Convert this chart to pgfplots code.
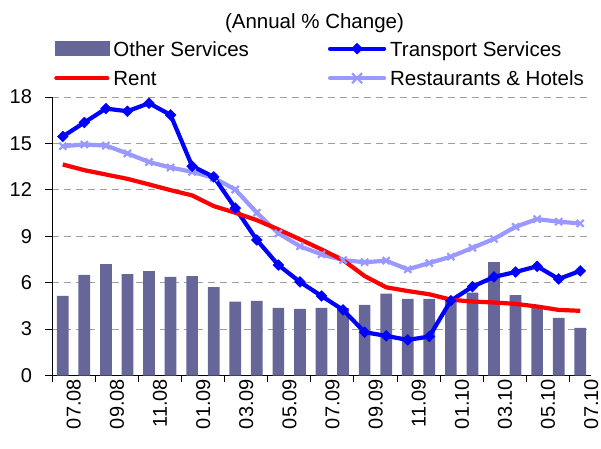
\documentclass[border=0pt]{standalone}
\usepackage{fontspec}
\setmainfont{Liberation Sans}
\usepackage{pgfplots}
\pgfplotsset{compat=1.18}
\definecolor{barcol}{HTML}{666699}
\definecolor{tcol}{HTML}{0000FF}
\definecolor{rentcol}{HTML}{FF0000}
\definecolor{rhcol}{HTML}{9999FF}
\definecolor{gridcol}{HTML}{A0A0A0}
\begin{document}
\begin{tikzpicture}
\useasboundingbox (-52pt,-72.5pt) rectangle (549pt,375.5pt);
\begin{axis}[
  scale only axis,
  width=539pt, height=278.5pt,
  at={(0pt,0pt)}, anchor=south west,
  xmin=-0.5, xmax=24.5,
  ymin=0, ymax=18,
  axis x line*=bottom, axis y line*=left,
  axis line style={black, line width=0.8pt},
  tick align=outside,
  ytick={0,3,...,18},
  ymajorgrids,
  major grid style={gridcol, line width=0.8pt, dash pattern=on 7pt off 5pt},
  major tick length=6.5pt,
  tick style={black, line width=0.8pt},
  xtick={-0.5,1.5,...,23.5},
  xticklabels={},
  extra x ticks={0,2,...,24},
  extra x tick labels={07.08,09.08,11.08,01.09,03.09,05.09,07.09,09.09,11.09,01.10,03.10,05.10,07.10},
  extra x tick style={major tick length=0pt, grid=none},
  /pgf/number format/assume math mode=true,
  yticklabel style={font=\fontsize{20}{23}\selectfont, xshift=-10pt},
  xticklabel style={font=\fontsize{20}{23}\selectfont, rotate=90, anchor=east, yshift=-11pt},
  legend columns=2,
  legend cell align=left,
  legend style={at={(0.00371,1.2011)}, anchor=north west, draw=none, fill=none,
    inner sep=0pt, row sep=14.5pt,
    font=\fontsize{20.5}{24}\selectfont,
    nodes={inner sep=0pt, text height=15pt, text depth=0pt},
    /tikz/every odd column/.append style={column sep=4pt},
    /tikz/every even column/.append style={column sep=79pt}},
]
\addlegendimage{legend image code/.code={\fill[barcol] (0pt,-7pt) rectangle (54pt,7pt);}}
\addlegendentry{Other Services}
\addlegendimage{legend image code/.code={\draw[tcol,line width=4.2pt,line cap=round] (1.5pt,0pt) -- (55.5pt,0pt); \fill[tcol] (28.5pt,5.5pt) -- (34pt,0pt) -- (28.5pt,-5.5pt) -- (23pt,0pt) -- cycle;}}
\addlegendentry{Transport Services}
\addlegendimage{legend image code/.code={\draw[rentcol,line width=4.2pt,line cap=round] (1.5pt,0pt) -- (52.5pt,0pt);}}
\addlegendentry{Rent}
\addlegendimage{legend image code/.code={\draw[rhcol,line width=4.2pt,line cap=round] (1.5pt,0pt) -- (55.5pt,0pt); \draw[rhcol,line width=2.2pt] (23.5pt,-5pt) -- (33.5pt,5pt) (23.5pt,5pt) -- (33.5pt,-5pt);}}
\addlegendentry{Restaurants \& Hotels}

% Other Services (bars)
\addplot[forget plot, ybar, bar width=11.7pt, fill=barcol, draw=none] coordinates {
(0,5.14) (1,6.50) (2,7.20) (3,6.56) (4,6.75) (5,6.37) (6,6.43) (7,5.72) (8,4.78) (9,4.82)
(10,4.37) (11,4.30) (12,4.37) (13,4.37) (14,4.56) (15,5.29) (16,4.95) (17,4.95) (18,4.90) (19,5.36)
(20,7.33) (21,5.20) (22,4.50) (23,3.72) (24,3.08)};

% Restaurants & Hotels
\addplot[forget plot, rhcol, line width=4.2pt, mark=x, mark size=5pt, mark options={line width=2.2pt}] coordinates {
(0,14.82) (1,14.93) (2,14.86) (3,14.35) (4,13.80) (5,13.44) (6,13.16) (7,12.78) (8,12.02) (9,10.52)
(10,9.19) (11,8.35) (12,7.83) (13,7.46) (14,7.32) (15,7.42) (16,6.86) (17,7.27) (18,7.68) (19,8.25)
(20,8.83) (21,9.61) (22,10.11) (23,9.94) (24,9.83)};

% Transport Services
\addplot[forget plot, tcol, line width=4.2pt, mark=square*, mark size=3.8pt, mark options={rotate=45, line width=0.5pt}] coordinates {
(0,15.45) (1,16.35) (2,17.25) (3,17.08) (4,17.60) (5,16.84) (6,13.53) (7,12.84) (8,10.82) (9,8.76)
(10,7.14) (11,6.05) (12,5.14) (13,4.24) (14,2.80) (15,2.56) (16,2.30) (17,2.52) (18,4.84) (19,5.74)
(20,6.37) (21,6.69) (22,7.06) (23,6.24) (24,6.76)};

% Rent
\addplot[forget plot, rentcol, line width=4.2pt, no marks] coordinates {
(0,13.64) (1,13.27) (2,12.99) (3,12.71) (4,12.35) (5,11.98) (6,11.64) (7,10.95) (8,10.52) (9,10.04)
(10,9.44) (11,8.80) (12,8.15) (13,7.46) (14,6.43) (15,5.70) (16,5.46) (17,5.25) (18,4.90) (19,4.78)
(20,4.72) (21,4.63) (22,4.46) (23,4.24) (24,4.18)};
\end{axis}
\node[anchor=base, font=\fontsize{20.5}{24}\selectfont] at (262.5pt,346.5pt) {(Annual \% Change)};
\end{tikzpicture}
\end{document}
